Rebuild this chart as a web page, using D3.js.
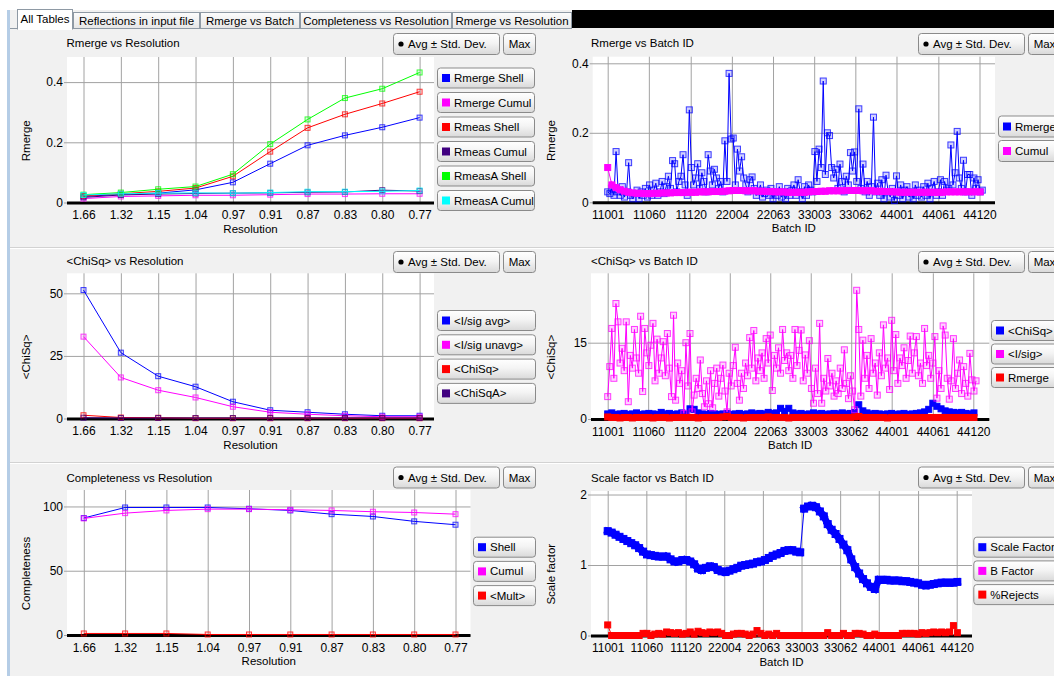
<!DOCTYPE html>
<html>
<head>
<meta charset="utf-8">
<script src="https://cdn.jsdelivr.net/npm/d3@7"></script>
<style>
body { margin: 0; background: #fff; overflow: hidden; }
svg { display: block; font-family: "Liberation Sans", Arial, sans-serif; }
</style>
</head>
<body>
<svg id="chart" width="1054" height="676"></svg>
<script>
// ---- data ----
var resolution = ['1.66', '1.32', '1.15', '1.04', '0.97', '0.91', '0.87', '0.83', '0.80', '0.77'];

var rmergeShell = [0.020, 0.027, 0.031, 0.042, 0.067, 0.129, 0.190, 0.223, 0.250, 0.282];
var rmergeCumul = [0.013, 0.020, 0.022, 0.024, 0.024, 0.026, 0.028, 0.028, 0.029, 0.029];
var rmeasShell = [0.022, 0.029, 0.037, 0.048, 0.087, 0.169, 0.248, 0.293, 0.329, 0.368];
var rmeasCumul = [0.017, 0.025, 0.028, 0.030, 0.031, 0.032, 0.034, 0.035, 0.041, 0.038];
var rmeasAShell = [0.026, 0.033, 0.044, 0.053, 0.094, 0.194, 0.276, 0.347, 0.378, 0.432];
var rmeasACumul = [0.025, 0.029, 0.031, 0.032, 0.031, 0.033, 0.036, 0.036, 0.037, 0.040];

var iSigAvg = [51.3, 26.3, 16.9, 12.7, 6.7, 3.3, 2.5, 1.7, 1.1, 1.1];
var iSigUnavg = [32.7, 16.4, 11.3, 8.4, 4.7, 2.5, 1.7, 1.1, 0.7, 0.7];
var chiSq = [1.3, 0.4, 0.3, 0.1, 0.1, 0.1, 0.1, 0.1, 0.1, 0.1];
var chiSqA = [0.3, 0.2, 0.2, 0.2, 0.2, 0.2, 0.2, 0.2, 0.2, 0.2];

var complShell = [91.0, 99.2, 99.2, 99.2, 98.2, 96.9, 94.0, 92.2, 88.4, 85.8];
var complCumul = [90.7, 94.8, 96.9, 97.9, 97.9, 97.4, 96.9, 95.9, 95.3, 94.0];
var multiplicity = [1.2, 1.2, 1.2, 0.4, 0.4, 0.4, 0.4, 0.4, 0.4, 0.4];

// batch axis: ticks are batch ids placed along the running batch index
var batchTickIdx = [0, 59, 119, 178, 237, 296, 355, 414, 474, 533];
var batchTickLabels = ['11001', '11060', '11120', '22004', '22063', '33003', '33062', '44001', '44061', '44120'];

// sampled every 3rd batch
var rmergeBatch = [
    0.03, 0.025, 0.04, 0.02, 0.146, 0.03, 0.02, 0.045, 0.015, 0.03,
    0.114, 0.02, 0.01, 0.025, 0.035, 0.01, 0.03, 0.02, 0.04, 0.015,
    0.05, 0.02, 0.035, 0.055, 0.02, 0.03, 0.06, 0.025, 0.045, 0.075,
    0.04, 0.12, 0.111, 0.03, 0.06, 0.075, 0.137, 0.05, 0.02, 0.266,
    0.1, 0.05, 0.07, 0.111, 0.04, 0.085, 0.06, 0.03, 0.137, 0.09,
    0.05, 0.095, 0.07, 0.04, 0.06, 0.03, 0.177, 0.06, 0.371, 0.182,
    0.185, 0.05, 0.153, 0.09, 0.131, 0.07, 0.05, 0.03, 0.065, 0.073,
    0.04, 0.02, 0.03, 0.05, 0.015, 0.025, 0.035, 0.02, 0.04, 0.01,
    0.03, 0.02, 0.045, 0.015, 0.03, 0.01, 0.04, 0.02, 0.035, 0.05,
    0.02, 0.065, 0.03, 0.01, 0.045, 0.02, 0.05, 0.035, 0.03, 0.146,
    0.06, 0.153, 0.1, 0.349, 0.08, 0.2, 0.192, 0.1, 0.07, 0.095,
    0.04, 0.11, 0.06, 0.03, 0.075, 0.05, 0.143, 0.09, 0.145, 0.06,
    0.269, 0.04, 0.11, 0.03, 0.06, 0.02, 0.045, 0.245, 0.03, 0.055,
    0.02, 0.065, 0.01, 0.078, 0.03, 0.015, 0.04, 0.005, 0.076, 0.02,
    0.05, 0.01, 0.035, 0.045, 0.015, 0.03, 0.01, 0.05, 0.02, 0.035,
    0.015, 0.045, 0.02, 0.055, 0.01, 0.04, 0.06, 0.02, 0.03, 0.065,
    0.02, 0.06, 0.035, 0.04, 0.165, 0.05, 0.085, 0.204, 0.07, 0.04,
    0.121, 0.03, 0.08, 0.08, 0.02, 0.07, 0.04, 0.065, 0.03, 0.035
];
var iSigBatch = [
    4.4, 10.3, 17.8, 8.0, 22.7, 19.1, 11.0, 13.9, 9.5, 19.1,
    3.4, 12.5, 10.0, 17.6, 12.0, 9.0, 20.2, 5.4, 17.8, 13.0,
    10.5, 14.5, 18.8, 7.5, 15.7, 9.0, 12.0, 15.2, 8.5, 16.8,
    10.0, 4.4, 20.4, 3.7, 11.0, 7.0, 9.5, 1.1, 15.0, 6.5,
    16.8, 1.4, 4.7, 8.0, 6.0, 11.6, 5.0, 2.4, 7.5, 3.0,
    9.5, 2.2, 7.0, 10.0, 4.5, 8.0, 10.6, 5.5, 1.4, 9.0,
    6.5, 10.5, 14.1, 7.0, 3.7, 9.0, 6.0, 11.0, 8.5, 16.0,
    10.0, 17.4, 7.5, 12.0, 9.5, 13.0, 8.0, 15.8, 11.0, 16.5,
    5.6, 12.5, 10.0, 14.0, 9.0, 17.6, 11.5, 13.0, 9.5, 12.5,
    8.0, 17.6, 10.5, 13.5, 17.5, 7.5, 12.6, 9.0, 15.4, 6.0,
    3.1, 10.0, 5.0, 18.8, 3.1, 8.0, 5.5, 11.9, 6.5, 9.0,
    4.5, 7.5, 5.0, 10.0, 6.0, 13.6, 7.0, 4.0, 8.5, 5.5,
    1.8, 25.3, 17.6, 4.5, 15.5, 8.0, 12.5, 6.0, 15.8, 9.0,
    11.0, 4.7, 13.0, 8.5, 18.5, 10.0, 12.0, 5.8, 19.4, 9.5,
    16.6, 7.0, 12.0, 10.5, 14.0, 8.0, 11.5, 16.3, 9.0, 13.0,
    16.2, 8.5, 11.0, 7.0, 17.8, 10.5, 12.5, 8.0, 11.0, 16.2,
    4.1, 9.5, 6.0, 18.3, 16.5, 8.0, 3.9, 7.5, 15.8, 6.0,
    9.0, 11.6, 5.0, 10.3, 7.0, 4.5, 12.9, 7.7, 5.5, 7.5
];

// sampled every 6th batch
var cumulBatch = [
    0.1, 0.05, 0.042, 0.036, 0.032, 0.029, 0.027, 0.026, 0.026, 0.025,
    0.025, 0.026, 0.026, 0.027, 0.027, 0.027, 0.028, 0.028, 0.028, 0.029,
    0.029, 0.029, 0.03, 0.03, 0.03, 0.031, 0.031, 0.031, 0.032, 0.033,
    0.034, 0.034, 0.034, 0.033, 0.033, 0.033, 0.032, 0.032, 0.031, 0.031,
    0.03, 0.03, 0.03, 0.029, 0.029, 0.029, 0.029, 0.029, 0.03, 0.031,
    0.031, 0.032, 0.032, 0.033, 0.033, 0.033, 0.033, 0.034, 0.034, 0.034,
    0.034, 0.033, 0.033, 0.033, 0.032, 0.032, 0.031, 0.031, 0.03, 0.03,
    0.029, 0.029, 0.029, 0.029, 0.029, 0.029, 0.029, 0.029, 0.029, 0.029,
    0.029, 0.03, 0.03, 0.03, 0.03, 0.03, 0.03, 0.03, 0.03, 0.03
];
var chiSqBatch = [
    1.0, 1.2, 0.9, 1.0, 1.1, 0.9, 1.0, 1.2, 0.9, 1.0,
    1.1, 1.0, 0.9, 1.3, 1.0, 1.1, 0.9, 1.0, 1.2, 1.0,
    2.0, 1.9, 1.2, 1.0, 0.9, 1.1, 1.0, 0.9, 1.0, 1.1,
    0.9, 1.0, 1.1, 0.9, 1.0, 1.2, 1.0, 1.1, 1.0, 1.3,
    1.1, 1.2, 2.1, 1.5, 2.1, 1.2, 1.0, 1.1, 0.9, 1.0,
    1.2, 1.0, 1.1, 0.9, 1.0, 1.1, 1.0, 1.2, 1.0, 1.1,
    1.3, 2.8, 1.6, 1.2, 1.0, 1.1, 1.0, 0.9, 1.0, 1.1,
    0.9, 1.0, 1.1, 0.9, 1.0, 1.1, 1.2, 1.4, 1.9, 3.1,
    2.5, 2.0, 1.6, 1.4, 1.3, 1.2, 1.3, 1.1, 1.0, 1.2
];
var rmergeChiBatch = [
    0.4, 0.3, 0.3, 0.2, 0.3, 0.3, 0.2, 0.3, 0.3, 0.3,
    0.3, 0.2, 0.3, 0.3, 0.3, 0.2, 0.3, 0.3, 0.3, 0.3,
    0.3, 0.3, 0.2, 0.3, 0.3, 0.3, 0.3, 0.3, 0.4, 0.5,
    0.3, 0.3, 0.3, 0.2, 0.3, 0.3, 0.3, 0.3, 0.3, 0.4,
    0.3, 0.3, 0.3, 0.3, 0.2, 0.3, 0.3, 0.3, 0.3, 0.3,
    0.3, 0.3, 0.3, 0.3, 0.3, 0.3, 0.3, 0.3, 0.3, 0.3,
    0.4, 0.5, 0.3, 0.3, 0.3, 0.3, 0.3, 0.3, 0.2, 0.3,
    0.3, 0.3, 0.3, 0.3, 0.3, 0.3, 0.3, 0.3, 0.3, 0.3,
    0.3, 0.3, 0.3, 0.3, 0.3, 0.3, 0.3, 0.3, 0.3, 0.3
];
var scaleFactor = [
    1.48, 1.46, 1.43, 1.40, 1.37, 1.34, 1.31, 1.28, 1.24, 1.19,
    1.15, 1.14, 1.13, 1.12, 1.12, 1.12, 1.08, 1.05, 1.05, 1.07,
    1.07, 1.05, 1.01, 0.95, 0.93, 0.96, 0.98, 0.97, 0.93, 0.91,
    0.90, 0.92, 0.94, 0.96, 0.99, 1.00, 1.01, 1.02, 1.04, 1.05,
    1.07, 1.10, 1.13, 1.15, 1.17, 1.20, 1.21, 1.21, 1.19, 1.18,
    1.80, 1.83, 1.84, 1.82, 1.76, 1.69, 1.58, 1.50, 1.44, 1.37,
    1.29, 1.21, 1.08, 0.97, 0.88, 0.80, 0.74, 0.69, 0.66, 0.79,
    0.79, 0.79, 0.78, 0.78, 0.78, 0.77, 0.77, 0.76, 0.75, 0.74,
    0.72, 0.71, 0.72, 0.73, 0.74, 0.75, 0.75, 0.75, 0.75, 0.76
];
var rejects = [
    0.15, 0, 0, 0, 0, 0, 0, 0, 0, 0.03,
    0.03, 0, 0.02, 0.03, 0.02, 0.05, 0.04, 0.03, 0.04, 0.02,
    0.03, 0.05, 0.02, 0.06, 0.04, 0.03, 0.05, 0.04, 0.05, 0.03,
    0, 0, 0.02, 0.03, 0.03, 0.02, 0, 0.02, 0.07, 0.03,
    0, 0.02, 0, 0.03, 0, 0, 0, 0, 0, 0,
    0, 0, 0, 0, 0, 0, 0.04, 0, 0, 0,
    0.03, 0, 0, 0.03, 0.03, 0.02, 0, 0, 0.02, 0,
    0, 0, 0, 0, 0, 0.03, 0.03, 0.03, 0.03, 0.02,
    0.04, 0.03, 0.04, 0.05, 0.04, 0.05, 0.04, 0.05, 0.14, 0.04
];

var tabNames = ['All Tables', 'Reflections in input file', 'Rmerge vs Batch', 'Completeness vs Resolution', 'Rmerge vs Resolution'];

var BLUE = '#0000ff', MAGENTA = '#ff00ff', RED = '#ff0000', INDIGO = '#400080', GREEN = '#00ff00', CYAN = '#00ffff';

var svg = d3.select('#chart');

// gradients for the swing-like buttons
var defs = svg.append('defs');
var btnGrad = defs.append('linearGradient').attr('id', 'btnGrad')
    .attr('x1', 0).attr('y1', 0).attr('x2', 0).attr('y2', 1);
btnGrad.append('stop').attr('offset', '0').attr('stop-color', '#ffffff');
btnGrad.append('stop').attr('offset', '0.45').attr('stop-color', '#f4f4f4');
btnGrad.append('stop').attr('offset', '1').attr('stop-color', '#d9d9d9');
var tabGrad = defs.append('linearGradient').attr('id', 'tabGrad')
    .attr('x1', 0).attr('y1', 0).attr('x2', 0).attr('y2', 1);
tabGrad.append('stop').attr('offset', '0').attr('stop-color', '#fcfcfc');
tabGrad.append('stop').attr('offset', '1').attr('stop-color', '#e6e6e6');

// window background
svg.append('rect').attr('width', 1054).attr('height', 676).attr('fill', '#ffffff');
svg.append('rect').attr('x', 10).attr('y', 10).attr('width', 1044).attr('height', 666).attr('fill', '#f1f1f1');
svg.append('rect').attr('x', 7).attr('y', 10).attr('width', 3).attr('height', 666).attr('fill', '#b5cde6');
svg.append('rect').attr('x', 572).attr('y', 10).attr('width', 482).attr('height', 18).attr('fill', '#000');

// tab strip
var tabEdges = [17, 73, 200, 300, 452, 572];
svg.append('line').attr('x1', 10).attr('x2', 572).attr('y1', 28.5).attr('y2', 28.5).attr('stroke', '#8e99a4');
tabNames.forEach(function(name, i) {
    var sel = i === 0;
    var x0 = tabEdges[i], x1 = tabEdges[i + 1];
    svg.append('rect')
        .attr('x', x0 + 0.5).attr('y', sel ? 9.5 : 12.5)
        .attr('width', x1 - x0 - 1).attr('height', sel ? 19.5 : 16)
        .attr('fill', sel ? '#ffffff' : 'url(#tabGrad)')
        .attr('stroke', '#8e99a4');
    svg.append('text')
        .attr('x', (x0 + x1) / 2).attr('y', sel ? 23 : 24.5)
        .attr('text-anchor', 'middle').attr('font-size', 11.5)
        .text(name);
});
svg.append('rect').attr('x', 18).attr('y', 27).attr('width', 54).attr('height', 3).attr('fill', '#ffffff');

// etched separators between the chart rows
[247, 462].forEach(function(yy) {
    svg.append('line').attr('x1', 10).attr('x2', 1054).attr('y1', yy + 0.5).attr('y2', yy + 0.5).attr('stroke', '#d2d2d2');
    svg.append('line').attr('x1', 10).attr('x2', 1054).attr('y1', yy + 1.5).attr('y2', yy + 1.5).attr('stroke', '#ffffff');
});

function button(g, x, y, w, h, label, dot) {
    g.append('rect').attr('x', x + 0.5).attr('y', y + 0.5).attr('width', w).attr('height', h)
        .attr('rx', 3).attr('fill', 'url(#btnGrad)').attr('stroke', '#8a8a8a');
    if (dot) {
        g.append('circle').attr('cx', x + 8).attr('cy', y + h / 2 + 0.5).attr('r', 2.6).attr('fill', '#000');
        g.append('text').attr('x', x + 15).attr('y', y + h / 2 + 4.5).attr('font-size', 11.5).text(label);
    } else {
        g.append('text').attr('x', x + w / 2 + 0.5).attr('y', y + h / 2 + 4.5)
            .attr('text-anchor', 'middle').attr('font-size', 11.5).text(label);
    }
}

function legendButton(g, x, y, w, h, label, color) {
    g.append('rect').attr('x', x + 0.5).attr('y', y + 0.5).attr('width', w).attr('height', h)
        .attr('rx', 3).attr('fill', 'url(#btnGrad)').attr('stroke', '#8a8a8a');
    g.append('rect').attr('x', x + 5).attr('y', y + h / 2 - 3.5).attr('width', 8).attr('height', 8).attr('fill', color);
    g.append('text').attr('x', x + 17).attr('y', y + h / 2 + 4.5).attr('font-size', 11.5).text(label);
}

var panels = [
    {title: 'Rmerge vs Resolution', kind: 'res', left: 67, right: 434, top: 57, bottom: 202.5,
     x0: 83.5, x1: 419.6, yMax: 0.4834, yTicks: [0, 0.2, 0.4], yLabel: 'Rmerge', xLabel: 'Resolution',
     titleX: 66.5, titleY: 47, btnX: 393, btnY: 33, yLabX: 26,
     legX: 437, legW: 97, legY: 67.5, legStep: 24.5, legH: 20,
     series: [
        {name: 'Rmerge Shell', values: rmergeShell, color: BLUE},
        {name: 'Rmerge Cumul', values: rmergeCumul, color: MAGENTA},
        {name: 'Rmeas Shell', values: rmeasShell, color: RED},
        {name: 'Rmeas Cumul', values: rmeasCumul, color: INDIGO},
        {name: 'RmeasA Shell', values: rmeasAShell, color: GREEN},
        {name: 'RmeasA Cumul', values: rmeasACumul, color: CYAN}
     ]},
    {title: 'Rmerge vs Batch ID', kind: 'batch', left: 592.7, right: 995, top: 56.7, bottom: 202.3,
     x0: 607.7, x1: 979.5, yMax: 0.419, yTicks: [0, 0.2, 0.4], yLabel: 'Rmerge', xLabel: 'Batch ID',
     titleX: 591, titleY: 47, btnX: 918, btnY: 33, yLabX: 551,
     legX: 998, legW: 95, legY: 115.5, legStep: 24.5, legH: 21,
     series: [
        {name: 'Rmerge', values: rmergeBatch, step: 3, color: BLUE, size: 6, fill: 0.18},
        {name: 'Cumul', values: cumulBatch, step: 6, color: MAGENTA, size: 6, fill: 1, band: 0.02}
     ]},
    {title: '<ChiSq> vs Resolution', kind: 'res', left: 67, right: 434, top: 273.3, bottom: 418.5,
     x0: 83.5, x1: 419.6, yMax: 58, yTicks: [0, 25, 50], yLabel: '<ChiSq>', xLabel: 'Resolution',
     titleX: 66.5, titleY: 265, btnX: 393, btnY: 251, yLabX: 26,
     legX: 437, legW: 98, legY: 310, legStep: 24.3, legH: 20,
     series: [
        {name: '<I/sig avg>', values: iSigAvg, color: BLUE},
        {name: '<I/sig unavg>', values: iSigUnavg, color: MAGENTA},
        {name: '<ChiSq>', values: chiSq, color: RED},
        {name: '<ChiSqA>', values: chiSqA, color: INDIGO}
     ]},
    {title: '<ChiSq> vs Batch ID', kind: 'batch', left: 591, right: 989.3, top: 273.3, bottom: 419,
     x0: 607.7, x1: 973.3, yMax: 28.64, yTicks: [0, 15], yLabel: '<ChiSq>', xLabel: 'Batch ID',
     titleX: 591, titleY: 265, btnX: 918, btnY: 251, yLabX: 551,
     legX: 991, legW: 95, legY: 320, legStep: 23.5, legH: 20,
     series: [
        {name: '<ChiSq>', values: chiSqBatch, step: 6, color: BLUE, size: 6, fill: 1},
        {name: '<I/sig>', values: iSigBatch, step: 3, color: MAGENTA, size: 6, fill: 0.18},
        {name: 'Rmerge', values: rmergeChiBatch, step: 6, color: RED, size: 6, fill: 1}
     ]},
    {title: 'Completeness vs Resolution', kind: 'res', left: 67, right: 470.5, top: 490, bottom: 635,
     x0: 83.8, x1: 455.5, yMax: 112.8, yTicks: [0, 50, 100], yLabel: 'Completeness', xLabel: 'Resolution',
     titleX: 66.5, titleY: 481.5, btnX: 393, btnY: 466.5, yLabX: 26,
     legX: 473, legW: 62, legY: 536.7, legStep: 24.2, legH: 20,
     series: [
        {name: 'Shell', values: complShell, color: BLUE},
        {name: 'Cumul', values: complCumul, color: MAGENTA},
        {name: '<Mult>', values: multiplicity, color: RED}
     ]},
    {title: 'Scale factor vs Batch ID', kind: 'batch', left: 591, right: 972, top: 491, bottom: 635.5,
     x0: 607.7, x1: 956.7, yMax: 2.05, yTicks: [0, 1, 2], yLabel: 'Scale factor', xLabel: 'Batch ID',
     titleX: 591, titleY: 481.5, btnX: 918, btnY: 466.5, yLabX: 551,
     legX: 973.3, legW: 95, legY: 536.7, legStep: 23.7, legH: 20,
     series: [
        {name: 'Scale Factor', values: scaleFactor, step: 6, color: BLUE, size: 7, fill: 1, band: 0.3},
        {name: 'B Factor', values: [], step: 6, color: MAGENTA},
        {name: '%Rejects', values: rejects, step: 6, color: RED, size: 6, fill: 1}
     ]}
];

function yFormat(d) {
    if (d === 0) return '0';
    return d < 1 ? d.toFixed(1) : String(d);
}

panels.forEach(function(cfg, pi) {
    var g = svg.append('g');
    var w = cfg.right - cfg.left;

    var y = d3.scaleLinear().domain([0, cfg.yMax]).range([cfg.bottom, cfg.top]);
    var x, xTickVals, xFmt, xOf;
    if (cfg.kind === 'res') {
        x = d3.scalePoint().domain(resolution).range([cfg.x0, cfg.x1]);
        xTickVals = resolution;
        xFmt = function(d) { return d; };
        xOf = function(s, i) { return x(resolution[i]); };
    } else {
        x = d3.scaleLinear().domain([0, batchTickIdx[batchTickIdx.length - 1]]).range([cfg.x0, cfg.x1]);
        xTickVals = batchTickIdx;
        xFmt = function(d) { return batchTickLabels[batchTickIdx.indexOf(d)]; };
        xOf = function(s, i) { return x(i * s.step); };
    }

    g.append('text').attr('x', cfg.titleX).attr('y', cfg.titleY).attr('font-size', 11.5).text(cfg.title);
    button(g, cfg.btnX, cfg.btnY, 106, 21, 'Avg \u00B1 Std. Dev.', true);
    button(g, cfg.btnX + 110, cfg.btnY, 32, 21, 'Max', false);

    // plot area
    g.append('rect').attr('x', cfg.left).attr('y', cfg.top).attr('width', w)
        .attr('height', cfg.bottom - cfg.top).attr('fill', '#ffffff');

    // vertical grid
    g.append('g').attr('transform', 'translate(0,' + cfg.top + ')')
        .call(d3.axisBottom(x).tickValues(xTickVals).tickSize(cfg.bottom - cfg.top).tickFormat(''))
        .call(function(a) {
            a.select('.domain').remove();
            a.selectAll('line').attr('stroke', '#a2a2a2');
        });

    // x tick labels
    g.append('g').attr('transform', 'translate(0,' + cfg.bottom + ')')
        .call(d3.axisBottom(x).tickValues(xTickVals).tickSize(0).tickPadding(8).tickFormat(xFmt))
        .call(function(a) {
            a.select('.domain').remove();
            a.attr('font-size', 12).attr('font-family', null);
            a.selectAll('text').attr('fill', '#000');
        });

    // horizontal grid + y labels
    g.append('g').attr('transform', 'translate(' + (cfg.left - 3) + ',0)')
        .call(d3.axisLeft(y).tickValues(cfg.yTicks).tickSize(-(w + 3)).tickPadding(1).tickFormat(yFormat))
        .call(function(a) {
            a.select('.domain').remove();
            a.attr('font-size', 12).attr('font-family', null);
            a.selectAll('line').attr('stroke', '#a2a2a2');
            a.selectAll('text').attr('fill', '#000');
        });

    // thick zero line
    g.append('line').attr('x1', cfg.left).attr('x2', cfg.right)
        .attr('y1', y(0) + 0.5).attr('y2', y(0) + 0.5)
        .attr('stroke', '#000').attr('stroke-width', 3);

    // axis titles
    g.append('text')
        .attr('transform', 'translate(' + cfg.yLabX + ',' + ((cfg.top + cfg.bottom) / 2 + 11) + ') rotate(-90)')
        .attr('dy', '0.35em').attr('text-anchor', 'middle').attr('font-size', 11.5)
        .text(cfg.yLabel);
    g.append('text').attr('x', (cfg.left + cfg.right) / 2).attr('y', cfg.bottom + 30)
        .attr('text-anchor', 'middle').attr('font-size', 11.5).text(cfg.xLabel);

    // series, clipped to the plot (a little below zero so markers at 0 show)
    var clipId = 'clip' + pi;
    defs.append('clipPath').attr('id', clipId).append('rect')
        .attr('x', cfg.left).attr('y', cfg.top).attr('width', w).attr('height', cfg.bottom - cfg.top + 4);
    var plot = g.append('g').attr('clip-path', 'url(#' + clipId + ')');

    cfg.series.forEach(function(s) {
        if (!s.values.length) return;
        var size = s.size || 5, half = size / 2;
        var fill = s.fill || 0.12;
        var pts = s.values.map(function(v, i) { return [xOf(s, i), y(v)]; });
        plot.append('path').datum(pts)
            .attr('d', d3.line())
            .attr('fill', 'none').attr('stroke', s.color).attr('stroke-width', 1);
        // densely packed markers merge into a thick band; jumps stay thin
        if (s.band) {
            var segs = [];
            for (var i = 1; i < s.values.length; i++) {
                if (Math.abs(s.values[i] - s.values[i - 1]) < s.band) segs.push([pts[i - 1], pts[i]]);
            }
            plot.append('g').selectAll('path').data(segs).enter().append('path')
                .attr('d', d3.line())
                .attr('fill', 'none').attr('stroke', s.color)
                .attr('stroke-width', size).attr('stroke-linecap', 'square');
        }
        plot.append('g').selectAll('rect').data(pts).enter().append('rect')
            .attr('x', function(d) { return d[0] - half; })
            .attr('y', function(d) { return d[1] - half; })
            .attr('width', size).attr('height', size)
            .attr('fill', s.color).attr('fill-opacity', fill)
            .attr('stroke', s.color).attr('stroke-opacity', fill >= 1 ? 1 : 0.75);
    });

    // legend buttons
    var leg = g.append('g');
    cfg.series.forEach(function(s, i) {
        legendButton(leg, cfg.legX, cfg.legY + i * cfg.legStep, cfg.legW, cfg.legH, s.name, s.color);
    });
});
</script>
</body>
</html>
